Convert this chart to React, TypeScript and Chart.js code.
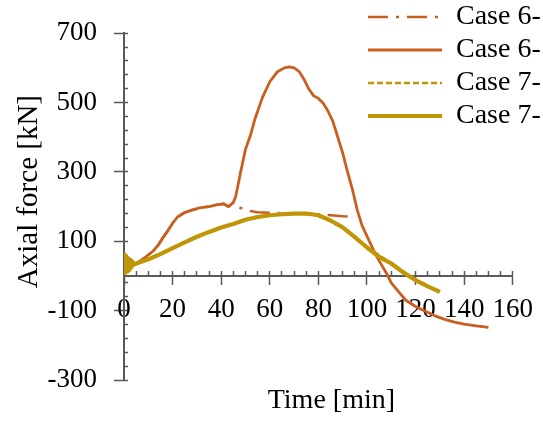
import React, { useEffect, useRef } from 'react';
import { Chart, registerables } from 'chart.js';

Chart.register(...registerables);

// ---------- data ----------
const seriesLabels = ['Case 6-', 'Case 6-', 'Case 7-', 'Case 7-'];

// Case 6 (dash-dot)
const case6DashTime = [0, 3, 5, 7, 9, 12, 14, 16, 18, 20, 22, 25, 28, 31, 35, 38, 41, 43, 45, 46, 48, 50, 52, 55, 60, 65, 70, 75, 80, 85, 90, 94];
const case6DashForce = [30, 28, 35, 45, 55, 72, 88, 110, 130, 152, 170, 183, 190, 196, 200, 205, 208, 200, 212, 200, 196, 192, 187, 184, 182, 181, 180, 180, 178, 175, 172, 171];

// Case 6 (solid)
const case6Time = [0, 3, 5, 7, 9, 12, 14, 16, 18, 20, 22, 25, 28, 31, 35, 38, 41, 43, 45, 46, 48, 50, 52, 54, 57, 60, 63, 66, 68, 70, 72, 74, 76, 78, 80, 82, 84, 86, 88, 90, 92, 94, 96, 98, 100, 102, 104, 106, 108, 110, 113, 116, 120, 124, 128, 132, 136, 140, 145, 150];
const case6Force = [30, 28, 35, 45, 55, 72, 88, 110, 130, 152, 170, 183, 190, 196, 200, 205, 208, 200, 212, 230, 300, 365, 405, 455, 515, 560, 588, 600, 603, 600, 590, 568, 540, 520, 512, 498, 475, 445, 400, 355, 300, 250, 190, 145, 115, 85, 56, 32, 8, -20, -45, -70, -88, -102, -115, -125, -133, -139, -144, -148];

// Case 7 (dashed)
const case7DashTime = [0, 5, 10, 20, 30, 40, 50, 60, 70, 80, 90, 100, 110, 120, 130];
const case7DashForce = [40, 37, 49, 80, 113, 140, 162, 175, 181, 176, 141, 83, 37, -12, -45];

// Case 7 (solid)
const case7Time = [0, 0.25, 0.5, 0.75, 1, 1.25, 1.5, 1.75, 2, 2.25, 2.5, 2.75, 3, 3.25, 3.5, 4, 5, 10, 15, 20, 25, 30, 35, 40, 45, 50, 55, 60, 65, 70, 75, 80, 85, 90, 95, 100, 105, 110, 115, 120, 125, 130];
const case7Force = [62, 8, 58, 10, 55, 13, 52, 16, 49, 19, 46, 23, 43, 27, 40, 34, 36, 48, 63, 80, 97, 113, 127, 140, 150, 162, 170, 175, 178, 180, 180, 175, 160, 140, 112, 82, 55, 36, 10, -12, -30, -46];

const xTitle = 'Time [min]';
const yTitle = 'Axial force [kN]';

// ---------- styling ----------
const ORANGE = '#C85F1E';
const GOLD = '#C09506';
const AXIS = '#595959';
const FONT = "'Liberation Serif', 'Times New Roman', serif";

const pts = (t: number[], v: number[]) => t.map((x, i) => ({ x, y: v[i] }));

const placement = {
  id: 'placement',
  afterLayout(chart: any) {
    const lg = chart.legend;
    if (lg) {
      const w = lg.width;
      const h = lg.height;
      lg.left = 363;
      lg.top = -2;
      lg.right = lg.left + w;
      lg.bottom = lg.top + h;
    }
    const tb = chart.titleBlock;
    if (tb) {
      tb.left += 13;
      tb.right += 13;
    }
    const ys = chart.scales.y;
    if (ys) {
      ys.top -= 15;
      ys.bottom -= 15;
    }
  },
};

export default function App() {
  const ref = useRef<HTMLCanvasElement>(null);

  useEffect(() => {
    if (!ref.current) return;
    const baseGen = (Chart as any).defaults.plugins.legend.labels.generateLabels;
    const chart = new Chart(ref.current, {
      type: 'line',
      data: {
        datasets: [
          {
            label: seriesLabels[0],
            data: pts(case6DashTime, case6DashForce),
            borderColor: ORANGE,
            backgroundColor: ORANGE,
            borderWidth: 2.5,
            borderDash: [20, 8, 3, 8],
            borderJoinStyle: 'round',
            pointRadius: 0,
            order: 3,
          },
          {
            label: seriesLabels[1],
            data: pts(case6Time, case6Force),
            borderColor: ORANGE,
            backgroundColor: ORANGE,
            borderWidth: 2.8,
            borderJoinStyle: 'round',
            pointRadius: 0,
            order: 2,
          },
          {
            label: seriesLabels[2],
            data: pts(case7DashTime, case7DashForce),
            borderColor: GOLD,
            backgroundColor: GOLD,
            borderWidth: 2.5,
            borderDash: [6, 3],
            borderJoinStyle: 'round',
            pointRadius: 0,
            order: 1,
          },
          {
            label: seriesLabels[3],
            data: pts(case7Time, case7Force),
            borderColor: GOLD,
            backgroundColor: GOLD,
            borderWidth: 4.2,
            borderJoinStyle: 'round',
            pointRadius: 0,
            order: 0,
          },
        ],
      },
      options: {
        responsive: false,
        animation: false,
        events: [],
        layout: { padding: { left: 0, top: 21, right: 28, bottom: 0 } },
        plugins: {
          tooltip: { enabled: false },
          legend: {
            display: true,
            position: 'chartArea',
            fullSize: false,
            align: 'start',
            labels: {
              usePointStyle: true,
              pointStyle: 'line',
              pointStyleWidth: 74,
              padding: 5,
              color: '#000',
              font: { family: FONT, size: 28 },
              sort: (a: any, b: any) => a.datasetIndex - b.datasetIndex,
              generateLabels: (c: any) =>
                baseGen(c).map((item: any) => {
                  const ds = c.data.datasets[item.datasetIndex];
                  return {
                    ...item,
                    lineDash: ds.borderDash || [],
                    lineWidth: ds.borderWidth,
                    strokeStyle: ds.borderColor,
                    pointStyle: 'line',
                  };
                }),
            },
          },
          title: {
            display: true,
            text: xTitle,
            position: 'bottom',
            fullSize: false,
            color: '#000',
            font: { family: FONT, size: 28, weight: 'normal' },
            padding: { top: 4, bottom: 4.4 },
          },
        },
        scales: {
          x: {
            type: 'linear',
            position: { y: 0 },
            min: 0,
            max: 160,
            ticks: {
              stepSize: 20,
              autoSkip: false,
              maxRotation: 0,
              padding: 10,
              color: '#000',
              font: { family: FONT, size: 27 },
            },
            grid: { drawOnChartArea: false, tickLength: 8, color: AXIS, tickWidth: 1.5 },
            border: { display: true, color: AXIS, width: 2 },
          },
          xMinor: {
            type: 'linear',
            axis: 'x',
            position: { y: 0 },
            min: 0,
            max: 160,
            ticks: { stepSize: 5, display: false, autoSkip: false },
            grid: { drawOnChartArea: false, tickLength: -5, color: AXIS, tickWidth: 1.5 },
            border: { display: false },
          },
          y: {
            type: 'linear',
            position: 'left',
            min: -300,
            max: 700,
            afterFit: (s: any) => {
              s.width = 124;
            },
            ticks: {
              stepSize: 200,
              padding: 17,
              color: '#000',
              font: { family: FONT, size: 27 },
            },
            grid: { drawOnChartArea: false, tickLength: 10, color: AXIS, tickWidth: 1.5 },
            border: { display: false },
            title: {
              display: true,
              text: yTitle,
              color: '#000',
              font: { family: FONT, size: 29 },
              padding: { top: 12, bottom: 0 },
            },
          },
          yMinor: {
            type: 'linear',
            axis: 'y',
            position: { x: 0 },
            min: -300,
            max: 700,
            ticks: { stepSize: 40, display: false },
            grid: { drawOnChartArea: false, tickLength: -5, color: AXIS, tickWidth: 1.5 },
            border: { display: true, color: AXIS, width: 2 },
          },
        },
      } as any,
      plugins: [placement],
    });
    return () => chart.destroy();
  }, []);

  return (
    <div style={{ position: 'absolute', left: 0, top: 0, width: 543, height: 422 }}>
      <canvas ref={ref} width={543} height={422} style={{ display: 'block' }} />
    </div>
  );
}
